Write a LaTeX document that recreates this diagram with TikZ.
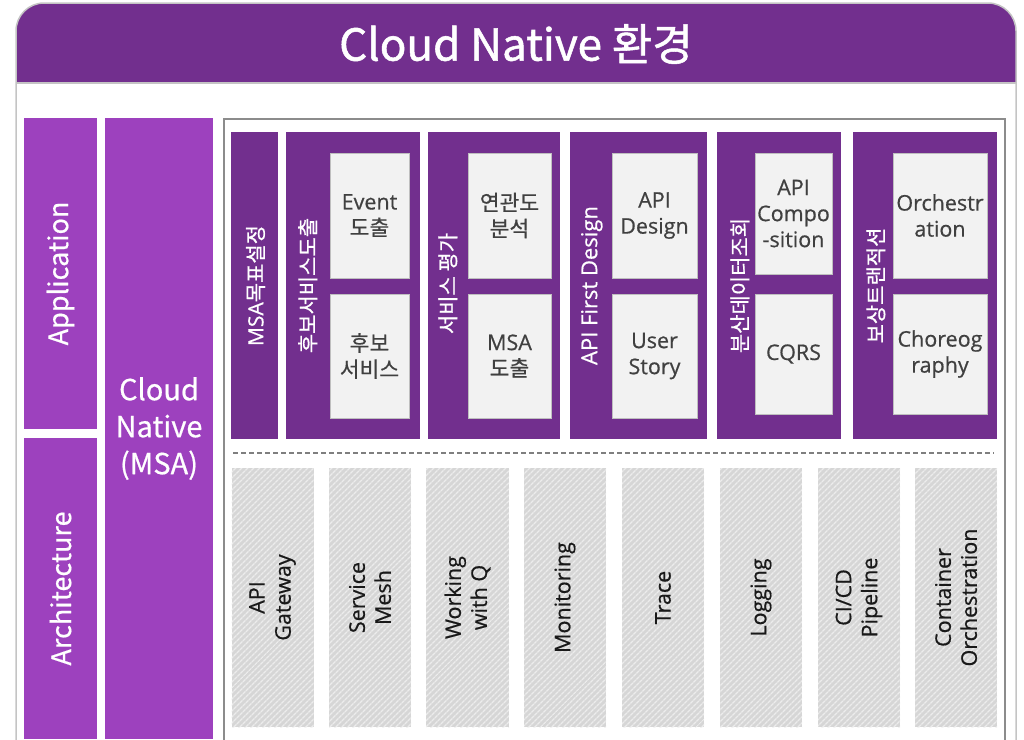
\documentclass[tikz,border=0pt]{standalone}
\usepackage{fontspec}
\setmainfont{Open Sans}[FakeBold=0.6]
\newfontfamily\kr{Noto Sans CJK KR}[FakeBold=0.6]
\newfontfamily\krtitle{Noto Sans CJK KR}[FakeBold=1.2]
\usetikzlibrary{patterns.meta}

\definecolor{stagepurple}{RGB}{114,47,142}
\definecolor{sidepurple}{RGB}{157,65,190}
\definecolor{framegray}{RGB}{196,196,196}
\definecolor{innerframe}{RGB}{140,140,140}
\definecolor{taskfill}{RGB}{242,242,242}
\definecolor{taskline}{RGB}{191,191,191}
\definecolor{taskink}{RGB}{64,64,64}
\definecolor{hatchbase}{RGB}{214,214,214}
\definecolor{hatchline}{RGB}{236,236,236}
\definecolor{dashgray}{RGB}{127,127,127}

\newcommand{\taskfont}{\fontsize{21.5}{26}\selectfont}
\newcommand{\labelfont}{\fontsize{21}{26}\selectfont}

\begin{document}
\begin{tikzpicture}[x=1pt,y=-1pt,
    sidebox/.style={fill=sidepurple,text=white,inner sep=0pt,align=center},
    stagebox/.style={fill=stagepurple,inner sep=0pt},
    stagelabel/.style={rotate=90,text=white,inner sep=0pt,font=\labelfont},
    taskbox/.style={draw=taskline,fill=taskfill,line width=1pt,inner sep=0pt,align=center,text=taskink,font=\taskfont},
    toolbox/.style={rotate=90,preaction={fill=hatchbase},pattern={Lines[angle=45,distance=4pt,line width=1.6pt]},pattern color=hatchline,inner sep=0pt,align=center,text=black!90,font=\taskfont}]
  \useasboundingbox (0,0) rectangle (1024,739);
  \clip (0,0) rectangle (1024,739);

  % Frame and title
  \begin{scope}
    \clip[rounded corners=28] (16,3) rectangle (1016,800);
    \fill[stagepurple] (16,3) rectangle (1016,83);
  \end{scope}
  \draw[framegray,line width=1.2pt] (16,83) -- (1016,83);
  \draw[framegray,line width=1.5pt,rounded corners=28] (16,3) rectangle (1016,800);
  \node[text=white,font=\krtitle\fontsize{44}{50}\selectfont] (Title) at (516,44) {Cloud Native 환경};

  % Left columns
  \node[sidebox,rotate=90,minimum width=311,minimum height=73,font=\kr\fontsize{27}{32}\selectfont] (Application) at (60.5,273.5) {Application};
  \node[sidebox,rotate=90,minimum width=301,minimum height=73,font=\kr\fontsize{27}{32}\selectfont] (Architecture) at (60.5,588.5) {Architecture};
  \node[sidebox,minimum width=108,minimum height=621,font=\kr\fontsize{29}{37}\selectfont] (CloudNative) at (159,428.5) {Cloud\\Native\\(MSA)};

  \draw[innerframe,line width=2.5pt] (224,119) rectangle (1005,800);

  % Application stages
  \node[stagebox,minimum width=47,minimum height=307] (GoalStage) at (254.5,285.5) {};
  \node[stagebox,minimum width=134,minimum height=307] (CandidateStage) at (353,285.5) {};
  \node[stagebox,minimum width=132,minimum height=307] (EvalStage) at (494,285.5) {};
  \node[stagebox,minimum width=137,minimum height=307] (ApiStage) at (638.5,285.5) {};
  \node[stagebox,minimum width=124,minimum height=307] (QueryStage) at (779,285.5) {};
  \node[stagebox,minimum width=144,minimum height=307] (SagaStage) at (925,285.5) {};

  \node[stagelabel] (GoalLabel) at ([xshift=1]GoalStage.center) {MSA{\kr 목표설정}};
  \node[stagelabel] (CandidateLabel) at ([xshift=22]CandidateStage.west) {\kr 후보서비스도출};
  \node[stagelabel] (EvalLabel) at ([xshift=20,yshift=2]EvalStage.west) {\kr 서비스 평가};
  \node[stagelabel,font=\fontsize{22}{26}\selectfont] (ApiLabel) at ([xshift=22]ApiStage.west) {API First Design};
  \node[stagelabel] (QueryLabel) at ([xshift=23]QueryStage.west) {\kr 분산데이터조회};
  \node[stagelabel] (SagaLabel) at ([xshift=23]SagaStage.west) {\kr 보상트랜적션};

  \node[taskbox,minimum width=79,minimum height=125] (EventTask) at (369.5,215.5) {Event\\{\kr 도출}};
  \node[taskbox,minimum width=79,minimum height=124] (CandidateTask) at (369.5,356) {{\kr 후보}\\{\kr 서비스}};
  \node[taskbox,minimum width=83,minimum height=125] (RelationTask) at (509.5,215.5) {{\kr 연관도}\\{\kr 분석}};
  \node[taskbox,minimum width=83,minimum height=124] (MsaTask) at (509.5,356) {MSA\\{\kr 도출}};
  \node[taskbox,minimum width=85,minimum height=125] (DesignTask) at (654.5,215.5) {API\\Design};
  \node[taskbox,minimum width=85,minimum height=124] (StoryTask) at (654.5,356) {User\\Story};
  \node[taskbox,minimum width=77,minimum height=121] (CompositionTask) at (793.5,213.5) {API\\Compo\\-sition};
  \node[taskbox,minimum width=77,minimum height=120] (CqrsTask) at (793.5,354) {CQRS};
  \node[taskbox,minimum width=94,minimum height=125] (OrchestrationTask) at (940,215.5) {Orchestr\\ation};
  \node[taskbox,minimum width=94,minimum height=120] (ChoreographyTask) at (940,354) {Choreog\\raphy};

  % Layer split
  \coordinate (SplitLeft) at (233,453);
  \coordinate (SplitRight) at (994,453);
  \draw[dashgray,line width=1.5pt,dash pattern=on 5pt off 3pt] (SplitLeft) -- (SplitRight);

  % Architecture tools
  \node[toolbox,minimum width=259,minimum height=82] (Gateway) at (272.5,597.5) {API\\Gateway};
  \node[toolbox,minimum width=259,minimum height=82] (Mesh) at (370,597.5) {Service\\Mesh};
  \node[toolbox,minimum width=259,minimum height=83] (Queue) at (467.5,597.5) {Working\\with Q};
  \node[toolbox,minimum width=259,minimum height=82] (Monitoring) at (565,597.5) {Monitoring};
  \node[toolbox,minimum width=259,minimum height=82] (Trace) at (663,597.5) {Trace};
  \node[toolbox,minimum width=259,minimum height=82] (Logging) at (761,597.5) {Logging};
  \node[toolbox,minimum width=259,minimum height=82] (Pipeline) at (859,597.5) {CI/CD\\Pipeline};
  \node[toolbox,minimum width=259,minimum height=82] (Container) at (956,597.5) {Container\\Orchestration};
\end{tikzpicture}
\end{document}
